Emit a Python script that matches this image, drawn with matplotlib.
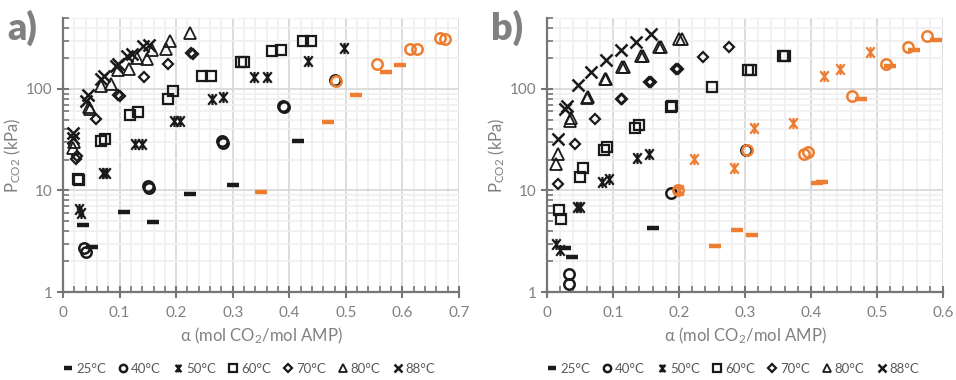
import matplotlib
matplotlib.use("Agg")
import matplotlib.pyplot as plt
from matplotlib.path import Path
from matplotlib.lines import Line2D
from matplotlib.ticker import MultipleLocator, LogLocator, FixedLocator, NullFormatter, FixedFormatter

plt.rcParams['font.family'] = ['Lato', 'DejaVu Sans']
plt.rcParams['mathtext.fontset'] = 'custom'
plt.rcParams['mathtext.rm'] = 'Lato'
plt.rcParams['mathtext.it'] = 'Lato:italic'

# ---------------- data: panel a ----------------
a25_x = [0.036, 0.052, 0.108, 0.159, 0.224, 0.300, 0.416]
a25_y = [4.6, 2.8, 6.2, 4.9, 9.3, 11.4, 31]
a40_x = [0.038, 0.040, 0.150, 0.152, 0.281, 0.283, 0.389, 0.391, 0.481]
a40_y = [2.7, 2.5, 11.0, 10.5, 31, 29.5, 68, 66, 122]
a50_x = [0.028, 0.031, 0.071, 0.076, 0.127, 0.139, 0.196, 0.207, 0.264, 0.283, 0.338, 0.360, 0.433, 0.497]
a50_y = [6.5, 6.0, 15, 15, 28.4, 28.4, 48.6, 48.6, 80, 83, 131, 131, 190, 254]
a60_x = [0.027, 0.029, 0.067, 0.075, 0.118, 0.132, 0.185, 0.195, 0.246, 0.261, 0.314, 0.320, 0.370, 0.385, 0.425, 0.439]
a60_y = [13.0, 12.8, 30.6, 32.5, 55.7, 58.7, 79.6, 94.7, 133, 134, 185, 185, 239, 244, 298, 298]
a70_x = [0.023, 0.025, 0.058, 0.098, 0.100, 0.143, 0.186, 0.226, 0.230]
a70_y = [20.3, 22, 50.5, 87, 85, 130, 175, 227, 222]
a80_x = [0.018, 0.019, 0.046, 0.048, 0.068, 0.085, 0.098, 0.117, 0.130, 0.149, 0.158, 0.182, 0.189, 0.224]
a80_y = [26, 30, 66, 64, 108, 111, 153, 157, 202, 199, 244, 250, 300, 357]
a88_x = [0.017, 0.018, 0.040, 0.045, 0.068, 0.073, 0.093, 0.098, 0.113, 0.122, 0.142, 0.152]
a88_y = [33, 37, 76, 87, 125, 133, 168, 178, 210, 220, 262, 268]
ao25_x = [0.350, 0.469, 0.518, 0.571, 0.595]
ao25_y = [9.6, 47, 87, 147, 173]
ao40_x = [0.482, 0.555, 0.614, 0.625, 0.667, 0.676]
ao40_y = [120, 177, 248, 250, 320, 312]

# ---------------- data: panel b ----------------
b25_x = [0.0275, 0.0375, 0.160]
b25_y = [2.72, 2.22, 4.23]
b40_x = [0.034, 0.034, 0.188, 0.302]
b40_y = [1.5, 1.21, 9.4, 25]
b50_x = [0.014, 0.019, 0.045, 0.050, 0.083, 0.094, 0.136, 0.154]
b50_y = [2.94, 2.6, 6.8, 6.8, 12.2, 13.1, 21.1, 23]
b60_x = [0.018, 0.0215, 0.050, 0.054, 0.0865, 0.0915, 0.133, 0.140, 0.188, 0.190, 0.250, 0.305, 0.309, 0.358, 0.361]
b60_y = [6.4, 5.2, 13.7, 16.6, 25.1, 27, 41.7, 44.4, 65.8, 68, 104, 153, 153, 213, 213]
b70_x = [0.0165, 0.0425, 0.0725, 0.112, 0.114, 0.154, 0.157, 0.195, 0.198, 0.236, 0.276]
b70_y = [11.5, 28.8, 51, 80, 80, 116, 116, 157, 157, 207, 258]
b80_x = [0.014, 0.016, 0.035, 0.036, 0.060, 0.062, 0.0875, 0.090, 0.113, 0.116, 0.142, 0.145, 0.170, 0.173, 0.200, 0.205]
b80_y = [18.3, 23, 48, 52, 81.5, 84, 124, 124, 163, 165, 213, 213, 258, 258, 312, 312]
b88_x = [0.016, 0.028, 0.030, 0.047, 0.067, 0.089, 0.112, 0.135, 0.158]
b88_y = [32, 63, 68, 110, 146, 192, 240, 291, 349]
bo25_x = [0.255, 0.288, 0.311, 0.409, 0.416, 0.475, 0.520, 0.556, 0.590]
bo25_y = [2.83, 4.07, 3.63, 11.8, 12.2, 80, 167, 240, 302]
bo40_x = [0.198, 0.303, 0.389, 0.395, 0.462, 0.513, 0.547, 0.576]
bo40_y = [10.2, 25, 22.8, 24, 86, 177, 260, 331]
bo50_x = [0.200, 0.223, 0.283, 0.314, 0.372, 0.419, 0.444, 0.489]
bo50_y = [10.1, 20.3, 16.8, 41, 46, 133, 157, 232]

legend_labels = ["25°C", "40°C", "50°C", "60°C", "70°C", "80°C", "88°C"]
x_ticks_a = [0, 0.1, 0.2, 0.3, 0.4, 0.5, 0.6, 0.7]
x_ticks_b = [0, 0.1, 0.2, 0.3, 0.4, 0.5, 0.6]
y_ticks = [1, 10, 100]

BLACK = '#1a1a1a'
ORANGE = '#ED7D31'
GRAY = '#808080'
AXC = '#7a7575'

star = Path([(-0.8, -1), (0.8, 1), (-0.8, 1), (0.8, -1), (0, -1.05), (0, 1.05)],
            [Path.MOVETO, Path.LINETO, Path.MOVETO, Path.LINETO, Path.MOVETO, Path.LINETO])

styles = {
    '25': dict(marker='_', ms=9, mew=3.2),
    '40': dict(marker='o', ms=7.5, mew=1.8, mfc='none'),
    '50': dict(marker=star, ms=8, mew=1.6, mfc='none'),
    '60': dict(marker='s', ms=7.5, mew=1.6, mfc='none'),
    '70': dict(marker='D', ms=5.5, mew=1.6, mfc='none'),
    '80': dict(marker='^', ms=8.5, mew=1.3, mfc='none'),
    '88': dict(marker='x', ms=8, mew=1.8),
}

fig = plt.figure(figsize=(9.56, 3.8), dpi=100)
axa = fig.add_axes([63/956, 1-292/380, 396/956, 274/380])
axb = fig.add_axes([547/956, 1-292/380, 396/956, 274/380])

def plot(ax, key, xs, ys, color):
    st = dict(styles[key])
    ax.plot(xs, ys, linestyle='none', color=color, mec=color, zorder=3, **st)

plot(axa, '25', a25_x, a25_y, BLACK)
plot(axa, '40', a40_x, a40_y, BLACK)
plot(axa, '50', a50_x, a50_y, BLACK)
plot(axa, '60', a60_x, a60_y, BLACK)
plot(axa, '70', a70_x, a70_y, BLACK)
plot(axa, '80', a80_x, a80_y, BLACK)
plot(axa, '88', a88_x, a88_y, BLACK)
plot(axa, '25', ao25_x, ao25_y, ORANGE)
plot(axa, '40', ao40_x, ao40_y, ORANGE)

plot(axb, '25', b25_x, b25_y, BLACK)
plot(axb, '40', b40_x, b40_y, BLACK)
plot(axb, '50', b50_x, b50_y, BLACK)
plot(axb, '60', b60_x, b60_y, BLACK)
plot(axb, '70', b70_x, b70_y, BLACK)
plot(axb, '80', b80_x, b80_y, BLACK)
plot(axb, '88', b88_x, b88_y, BLACK)
plot(axb, '25', bo25_x, bo25_y, ORANGE)
plot(axb, '40', bo40_x, bo40_y, ORANGE)
plot(axb, '50', bo50_x, bo50_y, ORANGE)

for ax, xt in [(axa, x_ticks_a), (axb, x_ticks_b)]:
    ax.set_yscale('log')
    ax.set_ylim(1, 500)
    ax.set_xlim(xt[0], xt[-1])
    ax.xaxis.set_major_locator(FixedLocator(xt))
    ax.xaxis.set_major_formatter(FixedFormatter([('%g' % v) for v in xt]))
    ax.xaxis.set_minor_locator(MultipleLocator(0.02))
    ax.yaxis.set_major_locator(FixedLocator(y_ticks))
    ax.yaxis.set_major_formatter(FixedFormatter([str(v) for v in y_ticks]))
    ax.yaxis.set_minor_locator(LogLocator(base=10, subs=range(2, 10), numticks=20))
    ax.yaxis.set_minor_formatter(NullFormatter())
    ax.grid(True, which='major', color='#d9d9d9', lw=1.3, zorder=0)
    ax.grid(True, which='minor', color='#efefef', lw=1.2, zorder=0)
    ax.set_axisbelow(True)
    for s in ['top', 'right']:
        ax.spines[s].set_visible(False)
    for s in ['left', 'bottom']:
        ax.spines[s].set_color(AXC)
        ax.spines[s].set_linewidth(1.6)
    ax.tick_params(which='major', direction='inout', length=8, width=1.5, color=AXC,
                   labelcolor=GRAY, labelsize=11)
    ax.tick_params(which='minor', direction='in', length=4, width=1.2, color=AXC)
    ax.tick_params(axis='x', which='major', pad=6)
    ax.set_xlabel('α (mol CO$_2$/mol AMP)', color=GRAY, fontsize=12, labelpad=4)
    ax.set_ylabel(r'P$_{\mathrm{CO2}}$ (kPa)', color=GRAY, fontsize=12, labelpad=2)

fig.text(7/956, 1-28/380, 'a)', fontsize=27, fontweight='heavy', color=GRAY, va='center', ha='left')
fig.text(491/956, 1-28/380, 'b)', fontsize=27, fontweight='heavy', color=GRAY, va='center', ha='left')

keys = ['25', '40', '50', '60', '70', '80', '88']
for ax in (axa, axb):
    handles = []
    for k, lab in zip(keys, legend_labels):
        st = dict(styles[k])
        handles.append(Line2D([], [], linestyle='none', color=BLACK, mec=BLACK, label=lab, **st))
    pos = ax.get_position()
    fig.legend(handles=handles, loc='center', ncol=7,
               bbox_to_anchor=((pos.x0 + pos.x1) / 2 - 0.012, 1 - 369/380),
               frameon=False, handlelength=0.7, handletextpad=0.25,
               columnspacing=0.95, markerscale=0.7, labelcolor='#595959',
               prop={'family': ['Lato'], 'size': 9.5})

fig.savefig('out.png', dpi=100)
